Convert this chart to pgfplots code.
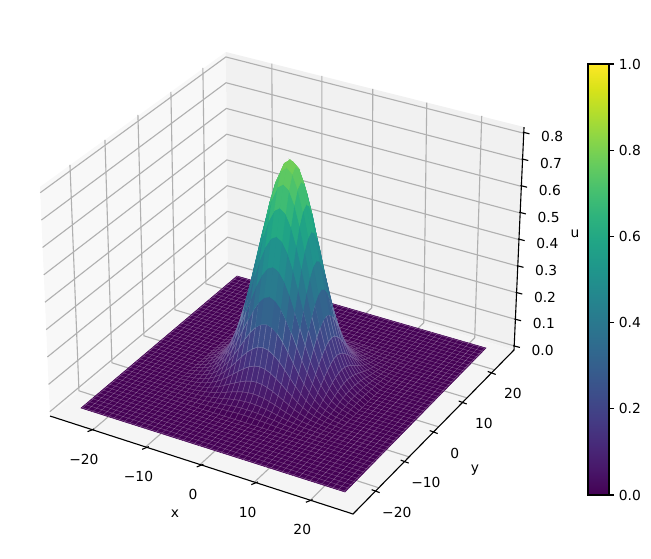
\documentclass[border=0pt]{standalone}
\usepackage{fontspec}
\setmainfont{DejaVu Sans}
\usepackage{pgfplots}
\usepackage{pgfplotstable}
\pgfplotsset{compat=1.18}
\pgfplotstableread{
x y u
0 0 0.800
1 0 0.783
2 0 0.733
3 0 0.658
4 0 0.565
5 0 0.465
6 0 0.366
7 0 0.276
8 0 0.199
9 0 0.138
10 0 0.091
11 0 0.058
12 0 0.035
13 0 0.020
14 0 0.011
15 0 0
0 1 0.783
1 1 0.766
2 1 0.718
3 1 0.644
4 1 0.553
5 1 0.455
6 1 0.358
7 1 0.270
8 1 0.195
9 1 0.135
10 1 0.089
11 1 0.056
12 1 0.034
13 1 0.020
14 1 0.011
15 1 0
0 2 0.733
1 2 0.718
2 2 0.672
3 2 0.603
4 2 0.518
5 2 0.426
6 2 0.335
7 2 0.253
8 2 0.182
9 2 0.126
10 2 0.083
11 2 0.053
12 2 0.032
13 2 0.019
14 2 0.010
15 2 0
0 3 0.658
1 3 0.644
2 3 0.603
3 3 0.541
4 3 0.465
5 3 0.382
6 3 0.301
7 3 0.227
8 3 0.164
9 3 0.113
10 3 0.075
11 3 0.047
12 3 0.029
13 3 0.017
14 3 0.009
15 3 0
0 4 0.565
1 4 0.553
2 4 0.518
3 4 0.465
4 4 0.399
5 4 0.328
6 4 0.258
7 4 0.195
8 4 0.141
9 4 0.097
10 4 0.064
11 4 0.041
12 4 0.025
13 4 0.014
14 4 0.008
15 4 0
0 5 0.465
1 5 0.455
2 5 0.426
3 5 0.382
4 5 0.328
5 5 0.270
6 5 0.212
7 5 0.160
8 5 0.116
9 5 0.080
10 5 0.053
11 5 0.033
12 5 0.020
13 5 0.012
14 5 0.007
15 5 0
0 6 0.366
1 6 0.358
2 6 0.335
3 6 0.301
4 6 0.258
5 6 0.212
6 6 0.167
7 6 0.126
8 6 0.091
9 6 0.063
10 6 0.042
11 6 0.026
12 6 0.016
13 6 0.009
14 6 0.005
15 6 0
0 7 0.276
1 7 0.270
2 7 0.253
3 7 0.227
4 7 0.195
5 7 0.160
6 7 0.126
7 7 0.095
8 7 0.069
9 7 0.047
10 7 0.031
11 7 0.020
12 7 0.012
13 7 0.007
14 7 0.004
15 7 0
0 8 0.199
1 8 0.195
2 8 0.182
3 8 0.164
4 8 0.141
5 8 0.116
6 8 0.091
7 8 0.069
8 8 0.049
9 8 0.034
10 8 0.023
11 8 0.014
12 8 0.009
13 8 0.005
14 8 0.003
15 8 0
0 9 0.138
1 9 0.135
2 9 0.126
3 9 0.113
4 9 0.097
5 9 0.080
6 9 0.063
7 9 0.047
8 9 0.034
9 9 0.024
10 9 0.016
11 9 0.010
12 9 0.006
13 9 0.003
14 9 0.002
15 9 0
0 10 0.091
1 10 0.089
2 10 0.083
3 10 0.075
4 10 0.064
5 10 0.053
6 10 0.042
7 10 0.031
8 10 0.023
9 10 0.016
10 10 0.010
11 10 0.007
12 10 0.004
13 10 0.002
14 10 0.001
15 10 0
0 11 0.058
1 11 0.056
2 11 0.053
3 11 0.047
4 11 0.041
5 11 0.033
6 11 0.026
7 11 0.020
8 11 0.014
9 11 0.010
10 11 0.007
11 11 0.004
12 11 0.003
13 11 0.001
14 11 0.001
15 11 0
0 12 0.035
1 12 0.034
2 12 0.032
3 12 0.029
4 12 0.025
5 12 0.020
6 12 0.016
7 12 0.012
8 12 0.009
9 12 0.006
10 12 0.004
11 12 0.003
12 12 0.002
13 12 0.001
14 12 0.001
15 12 0
0 13 0.020
1 13 0.020
2 13 0.019
3 13 0.017
4 13 0.014
5 13 0.012
6 13 0.009
7 13 0.007
8 13 0.005
9 13 0.003
10 13 0.002
11 13 0.001
12 13 0.001
13 13 0.001
14 13 0
15 13 0
0 14 0.011
1 14 0.011
2 14 0.010
3 14 0.009
4 14 0.008
5 14 0.007
6 14 0.005
7 14 0.004
8 14 0.003
9 14 0.002
10 14 0.001
11 14 0.001
12 14 0.001
13 14 0
14 14 0
15 14 0
0 15 0
1 15 0
2 15 0
3 15 0
4 15 0
5 15 0
6 15 0
7 15 0
8 15 0
9 15 0
10 15 0
11 15 0
12 15 0
13 15 0
14 15 0
15 15 0
}\quadrant
\pgfplotsset{
  /pgfplots/table/proj/.style 2 args={
    x expr={sx(#1*\thisrow{x},#2*\thisrow{y},\thisrow{u})},
    y expr={sy(#1*\thisrow{x},#2*\thisrow{y},\thisrow{u})},
    z expr={#1*0.5*\thisrow{x}-#2*0.866*\thisrow{y}+30*\thisrow{u}}},
  bump/.style={surf,shader=faceted,faceted color=mapped color!72!white,line width=0.3pt,
    z buffer=sort,mesh/rows=16,mesh/cols=16,point meta=\thisrow{u},forget plot},
  top/.style={surf,shader=flat,z buffer=sort,mesh/rows=16,mesh/cols=16,point meta=\thisrow{u},
    forget plot,unbounded coords=jump,restrict expr to domain={\thisrow{u}}{0.24:2}},
  seam/.style={white,opacity=0.3,line width=0.3pt,forget plot},
}
\tikzset{gl/.style={draw=black!31,line width=0.8bp}}
\begin{document}
\begin{tikzpicture}
% panes and grid, behind the axes, in picture pixels
\begin{scope}[x=0.01in,y=-0.01in,yshift=5.59in]
\fill[black!2.8] (50,416)--(228,265)--(226,52)--(40,187)--cycle;
\fill[black!5.5] (228,265)--(514,350)--(524,127)--(226,52)--cycle;
\fill[black!4] (50,416)--(353,514)--(514,350)--(228,265)--cycle;
\draw[gl] (70,165)--(79,391)--(378.8,488);
\draw[gl] (105,140)--(112,363)--(409,457);
\draw[gl] (138,115)--(144,336)--(438.7,427);
\draw[gl] (171,92)--(175,310)--(467,398);
\draw[gl] (203,68)--(206,284)--(494.8,370);
\draw[gl] (272,63.6)--(273,278)--(93,430);
\draw[gl] (322,76)--(322,293)--(146,447);
\draw[gl] (373,89)--(372,308)--(200,465);
\draw[gl] (427,102.6)--(424,323)--(255,482);
\draw[gl] (482,116)--(475,338)--(311,500);
\draw[gl] (49.8,412)--(228,263)--(514.2,346);
\draw[gl] (48.6,384.6)--(227.7,237.3)--(515.4,319.4);
\draw[gl] (47.4,357.2)--(227.5,211.5)--(516.6,292.8);
\draw[gl] (46.2,329.8)--(227.3,185.8)--(517.8,266.2);
\draw[gl] (45,302.4)--(227,160)--(519,239.6);
\draw[gl] (43.8,275)--(226.8,134.3)--(520.1,213);
\draw[gl] (42.6,247.6)--(226.5,108.5)--(521.3,186.4);
\draw[gl] (41.4,220.2)--(226.2,82.8)--(522.5,159.8);
\draw[gl] (40.3,192.8)--(226,57)--(523.7,133.2);
\end{scope}
% the axes: ticks, labels, drawn edges, colour bar
\begin{axis}[
  at={(2.822in,1.80in)},anchor=origin,
  disabledatascaling,clip=false,
  x={(0.05459in,-0.01766in)},y={(0.02901in,0.02955in)},z={(0.1198in,2.67in)},
  xmin=-27.75,xmax=27.75,ymin=-27.75,ymax=27.75,zmin=-0.015,zmax=0.82,
  colormap/viridis,point meta min=0,point meta max=1,
  font=\fontsize{10}{12}\selectfont,
  axis line style={draw=none},
  tick style={draw=none},tick align=center,major tick length=0.07in,
  xtick={-20,-10,0,10,20},xticklabels={−20,−10,0,10,20},
  ytick={-20,-10,0,10,20},yticklabels={−20,−10,0,10,20},
  ztick={0,0.1,0.2,0.3,0.4,0.5,0.6,0.7,0.8},
  zticklabels={0.0,0.1,0.2,0.3,0.4,0.5,0.6,0.7,0.8},
  xtick pos=left,ytick pos=left,ztick pos=right,zticklabel pos=right,
  xticklabel style={anchor=center,xshift=-0.06in,yshift=-0.27in},
  yticklabel style={anchor=center,xshift=0.18in,yshift=-0.20in},
  zticklabel style={anchor=center,xshift=0.26in,yshift=-0.07in},
  xlabel={x},ylabel={y},zlabel={u},
  every axis x label/.style={at={(axis cs:3.25,-43.07,0)},anchor=center,yshift=-0.02in},
  every axis y label/.style={at={(axis cs:38.82,-6.58,0)},anchor=center,yshift=-0.03in},
  every axis z label/.style={at={(axis cs:20.65,62.1,0)},anchor=center,rotate=0,yshift=-0.02in},
  colorbar,
  colorbar style={
    at={(parent axis.origin)},anchor=south west,xshift=2.94in,yshift=-1.16in,
    width=0.21in,height=4.31in,
    ytick={0,0.2,0.4,0.6,0.8,1},yticklabels={0.0,0.2,0.4,0.6,0.8,1.0},
    ytick pos=right,yticklabel pos=right,
    axis line style={draw=black,line width=0.8bp},
    tick style={draw=black,line width=0.8bp},major tick length=0.05in,tick align=outside,
  },
]
\addplot3[black,line width=0.8bp,forget plot] coordinates
  {(-27.75,-27.75,-0.015)(27.75,-27.75,-0.015)(27.75,27.75,-0.015)(27.75,27.75,0.82)};
\addplot3[black,line width=0.8bp,forget plot,unbounded coords=jump] coordinates {
  (-20.405,-28.65,-0.015)(-19.842,-27.4,-0.015)(nan,nan,nan)
  (-10.405,-28.65,-0.015)(-9.842,-27.4,-0.015)(nan,nan,nan)
  (-0.405,-28.65,-0.015)(0.158,-27.4,-0.015)(nan,nan,nan)
  (9.595,-28.65,-0.015)(10.158,-27.4,-0.015)(nan,nan,nan)
  (19.595,-28.65,-0.015)(20.158,-27.4,-0.015)(nan,nan,nan)
  (27.02,-19.95,-0.015)(28.54,-20.05,-0.015)(nan,nan,nan)
  (27.02,-9.95,-0.015)(28.54,-10.05,-0.015)(nan,nan,nan)
  (27.02,0.05,-0.015)(28.54,-0.05,-0.015)(nan,nan,nan)
  (27.02,10.05,-0.015)(28.54,9.95,-0.015)(nan,nan,nan)
  (27.02,20.05,-0.015)(28.54,19.95,-0.015)(nan,nan,nan)
  (27.58,27.73,0)(28.74,27.85,0)(nan,nan,nan)
  (27.58,27.73,0.1)(28.74,27.85,0.1)(nan,nan,nan)
  (27.58,27.73,0.2)(28.74,27.85,0.2)(nan,nan,nan)
  (27.58,27.73,0.3)(28.74,27.85,0.3)(nan,nan,nan)
  (27.58,27.73,0.4)(28.74,27.85,0.4)(nan,nan,nan)
  (27.58,27.73,0.5)(28.74,27.85,0.5)(nan,nan,nan)
  (27.58,27.73,0.6)(28.74,27.85,0.6)(nan,nan,nan)
  (27.58,27.73,0.7)(28.74,27.85,0.7)(nan,nan,nan)
  (27.58,27.73,0.8)(28.74,27.85,0.8)
};
\end{axis}
% the surface u(x,y), seen in perspective: x, y, u are read from the tables
\begin{axis}[
  at={(0,0)},anchor=south west,scale only axis,width=6.51in,height=5.59in,
  xmin=0,xmax=651,ymin=0,ymax=559,view={0}{90},hide axis,clip=false,
  colormap/viridis,point meta min=0,point meta max=1,
  declare function={
    pw(\x,\y,\z)=1-0.000839*\x+0.001694*\y-0.0529*\z;
    sx(\x,\y,\z)=(287.7+5.052*\x+3.558*\y-12.44*\z)/pw(\x,\y,\z);
    sy(\x,\y,\z)=559-(377.4+1.287*\x-2.203*\y-280.1*\z)/pw(\x,\y,\z);
  },
]
\addplot3[surf,shader=flat,mesh/rows=2,mesh/cols=2,point meta=\thisrow{u},forget plot]
  table[proj={1}{1},row sep=\\]{x y u\\ -24.2 -24.2 0\\ 24.2 -24.2 0\\ -24.2 24.2 0\\ 24.2 24.2 0\\};
\pgfplotsinvokeforeach{-24,-23,...,24}{
  \addplot3[seam] table[proj={1}{1},row sep=\\]{x y u\\ #1 -24.2 0\\ #1 24.2 0\\};
  \addplot3[seam] table[proj={1}{1},row sep=\\]{x y u\\ -24.2 #1 0\\ 24.2 #1 0\\};
}
\addplot3[bump] table[proj={-1}{1}] {\quadrant};
\addplot3[bump] table[proj={1}{1}] {\quadrant};
\addplot3[bump] table[proj={-1}{-1}] {\quadrant};
\addplot3[bump] table[proj={1}{-1}] {\quadrant};
\addplot3[top] table[proj={-1}{1}] {\quadrant};
\addplot3[top] table[proj={1}{1}] {\quadrant};
\addplot3[top] table[proj={-1}{-1}] {\quadrant};
\addplot3[top] table[proj={1}{-1}] {\quadrant};
\end{axis}
\pgfresetboundingbox
\path (0,0) rectangle (6.51in,5.59in);
\end{tikzpicture}
\end{document}
